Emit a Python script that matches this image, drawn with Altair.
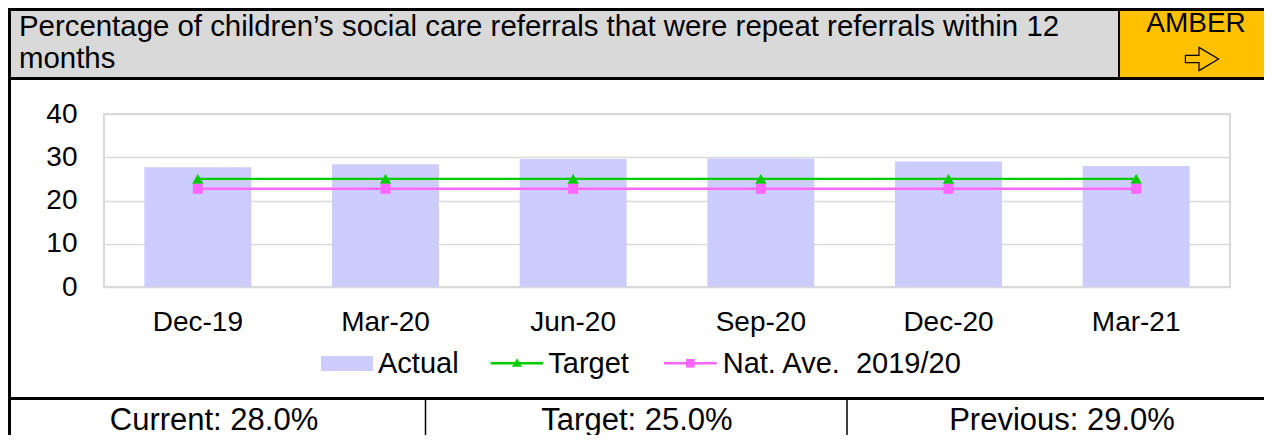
import altair as alt
import pandas as pd

# ---------------- data ----------------
periods = ["Dec-19", "Mar-20", "Jun-20", "Sep-20", "Dec-20", "Mar-21"]
actual = [27.7, 28.4, 29.6, 29.7, 29.0, 28.0]
target = [25.0, 25.0, 25.0, 25.0, 25.0, 25.0]
nat_ave = [22.7, 22.7, 22.7, 22.7, 22.7, 22.7]
y_ticks = [0, 10, 20, 30, 40]
title_lines = [
    "Percentage of children\u2019s social care referrals that were repeat referrals within 12",
    "months",
]
status_label = "AMBER"
series_names = ["Actual", "Target", "Nat. Ave. \u00a02019/20"]
footer_labels = ["Current", "Target", "Previous"]
footer_values = [actual[-1], target[-1], actual[-2]]

# ---------------- style ----------------
FONT = "Liberation Sans"
BAR = "#CCCCFF"
GREEN = "#00CC00"
PINK = "#FF66FF"
GRID = "#D9D9D9"
HEADER_BG = "#D9D9D9"
AMBER = "#FFC000"

W, H = 1126, 173           # plot area
OX, OY = 104, 114          # plot origin on the page


def px(v):
    return v - OX


def py(v):
    return v - OY


df = pd.DataFrame({"period": periods, "actual": actual,
                   "target": target, "nat_ave": nat_ave})

xenc = alt.X("period:N", sort=periods, title=None,
             scale=alt.Scale(paddingInner=0.43, paddingOuter=0.215),
             axis=alt.Axis(labelAngle=0, domain=False, ticks=False, tickSize=0,
                           labelPadding=21, labelFontSize=28, labelFont=FONT,
                           labelColor="black", grid=False))
yscale = alt.Scale(domain=[0, 40], nice=False)

bars = alt.Chart(df).mark_bar(color=BAR).encode(
    x=xenc,
    y=alt.Y("actual:Q", scale=yscale, title=None,
            axis=alt.Axis(values=y_ticks, domain=False, ticks=False, tickSize=0,
                          labelPadding=27, labelFontSize=28, labelFont=FONT,
                          labelColor="black", grid=True, gridColor=GRID,
                          gridWidth=1.7)),
)

xline = alt.X("period:N", sort=periods)
t_line = alt.Chart(df).mark_line(color=GREEN, strokeWidth=2.4).encode(
    x=xline, y=alt.Y("target:Q", scale=yscale))
t_pts = alt.Chart(df).mark_point(shape="triangle-up", filled=True, color=GREEN,
                                 size=130, opacity=1).encode(
    x=xline, y=alt.Y("target:Q", scale=yscale))
n_line = alt.Chart(df).mark_line(color=PINK, strokeWidth=2.4).encode(
    x=xline, y=alt.Y("nat_ave:Q", scale=yscale))
n_pts = alt.Chart(df).mark_point(shape="square", filled=True, color=PINK,
                                 size=100, opacity=1).encode(
    x=xline, y=alt.Y("nat_ave:Q", scale=yscale))

one = pd.DataFrame({"k": [0]})
base = alt.Chart(one)


def rect(x1, x2, y1, y2, color):
    return base.mark_rect(color=color).encode(
        x=alt.value(x1), x2=alt.value(x2), y=alt.value(y1), y2=alt.value(y2))


def hrule(x1, x2, y, w, color="black"):
    return base.mark_rule(color=color, strokeWidth=w).encode(
        x=alt.value(x1), x2=alt.value(x2), y=alt.value(y))


def vrule(x, y1, y2, w, color="black"):
    return base.mark_rule(color=color, strokeWidth=w).encode(
        x=alt.value(x), y=alt.value(y1), y2=alt.value(y2))


def text(s, x, y, size=28, align="left"):
    return base.mark_text(text=s, font=FONT, fontSize=size, color="black",
                          align=align, baseline="alphabetic").encode(
        x=alt.value(x), y=alt.value(y))


left, right, top, bottom = px(8), px(1264), py(8), py(435)

decor = [
    rect(left, px(1119), top, py(79), HEADER_BG),
    rect(px(1119), right, top, py(79), AMBER),
    hrule(left, right, py(9.5), 3),
    vrule(px(9.5), top, bottom, 3),
    hrule(left, right, py(78.5), 3),
    vrule(px(1119), top, py(78.5), 2),
    hrule(left, right, py(398.5), 3),
    vrule(px(425.5), py(398.5), bottom, 1.5),
    vrule(px(847), py(398.5), bottom, 1.5),
    text(title_lines[0], px(19), py(36), size=29.4),
    text(title_lines[1], px(19), py(68), size=29.4),
    text(status_label, px(1196), py(32.3), align="center"),
    base.mark_point(
        shape="M -1 -0.22 L -0.18 -0.22 L -0.18 -0.7 L 1 0 L -0.18 0.7 L -0.18 0.22 L -1 0.22 Z",
        size=1100, filled=False, stroke="black", strokeWidth=1.2, opacity=1,
    ).encode(x=alt.value(px(1202)), y=alt.value(py(59))),
    # legend
    rect(px(321), px(373), py(356), py(371), BAR),
    text(series_names[0], px(378), py(373), size=29),
    hrule(px(490.7), px(543.3), py(363.3), 2.4, GREEN),
    base.mark_point(shape="triangle-up", filled=True, color=GREEN, size=100,
                    opacity=1).encode(x=alt.value(px(517)), y=alt.value(py(362.5))),
    text(series_names[1], px(548.3), py(373), size=29),
    hrule(px(664), px(716.7), py(363.3), 2.4, PINK),
    base.mark_point(shape="square", filled=True, color=PINK, size=75,
                    opacity=1).encode(x=alt.value(px(690.3)), y=alt.value(py(363.3))),
    text(series_names[2], px(722.7), py(373), size=29),
]

footer_x = [px(214), px(637), px(1062)]
footer = [text(f"{lab}: {val:.1f}%", x, py(429.5), size=31, align="center")
          for lab, val, x in zip(footer_labels, footer_values, footer_x)]

chart = alt.layer(*decor[:2], bars, t_line, n_line, t_pts, n_pts,
                  *decor[2:], *footer).properties(
    width=W, height=H,
    autosize=alt.AutoSizeParams(type="none"),
    padding={"left": 96, "top": 106, "right": 34, "bottom": 148},
    background="white",
).configure_view(stroke=GRID, strokeWidth=2)

chart.save("out.html", embed_options={"renderer": "svg", "actions": False})
